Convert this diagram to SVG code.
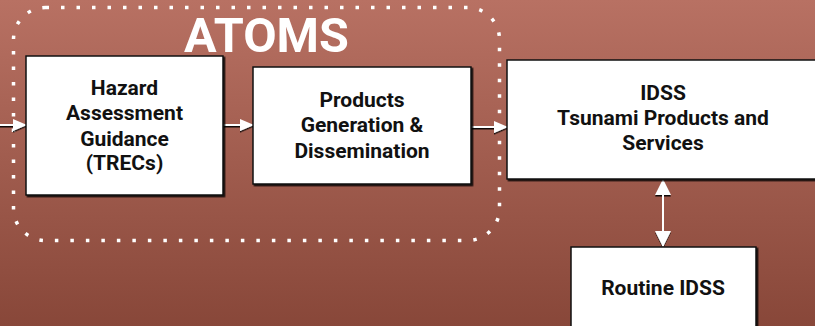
<svg xmlns="http://www.w3.org/2000/svg" width="815" height="326" viewBox="0 0 815 326">
  <defs>
    <linearGradient id="bg" x1="0" y1="0" x2="0" y2="1">
      <stop offset="0" stop-color="#b87163"/>
      <stop offset="1" stop-color="#884739"/>
    </linearGradient>
    <filter id="shadow" x="-5%" y="-5%" width="115%" height="115%">
      <feDropShadow dx="1.5" dy="1.5" stdDeviation="0.6" flood-color="#000" flood-opacity="0.85"/>
    </filter>
    <filter id="ashadow" x="-20%" y="-50%" width="140%" height="200%">
      <feDropShadow dx="0" dy="1.5" stdDeviation="0.4" flood-color="#000" flood-opacity="0.9"/>
    </filter>
    <marker id="head" viewBox="0 0 14 12" refX="13" refY="6" markerWidth="14" markerHeight="12" markerUnits="userSpaceOnUse" orient="auto-start-reverse">
      <path d="M0,0 L14,6 L0,12 Z" fill="#fff"/>
    </marker>
    <marker id="vhead" viewBox="0 0 16 16" refX="15" refY="8" markerWidth="16" markerHeight="16" markerUnits="userSpaceOnUse" orient="auto-start-reverse">
      <path d="M0,0 L16,8 L0,16 Z" fill="#fff"/>
    </marker>
  </defs>
  <style>
    .box { fill: #fff; stroke: #111; stroke-width: 1.5; filter: url(#shadow); }
    .label { font-family: Roboto, "Liberation Sans", sans-serif; font-weight: bold; font-size: 21px; fill: #111; text-anchor: middle; }
    .title { font-family: Roboto, "Liberation Sans", sans-serif; font-weight: bold; font-size: 48.5px; fill: #fff; text-anchor: middle; }
    .link { stroke: #fff; stroke-width: 2; fill: none; }
    .group { fill: none; stroke: #fff; stroke-width: 3.5; stroke-dasharray: 3.5 12; }
  </style>

  <rect x="0" y="0" width="815" height="326" fill="url(#bg)"/>

  <!-- ATOMS grouping outline -->
  <g id="atoms">
    <rect class="group" x="13.5" y="7.5" width="486" height="233" rx="32" ry="32"/>
    <text class="title" x="266.5" y="52">ATOMS</text>
  </g>

  <!-- connectors -->
  <g id="connectors" filter="url(#ashadow)">
    <line class="link" x1="0" y1="125" x2="26" y2="125" marker-end="url(#head)"/>
    <line class="link" x1="223" y1="125" x2="253" y2="125" marker-end="url(#head)"/>
    <line class="link" x1="471" y1="127" x2="507" y2="127" marker-end="url(#head)"/>
    <line class="link" x1="663" y1="180" x2="663" y2="246" marker-start="url(#vhead)" marker-end="url(#vhead)"/>
  </g>

  <g id="hazard">
    <rect class="box" x="26" y="56" width="197" height="139"/>
    <text class="label" x="124.5" y="95">Hazard</text>
    <text class="label" x="124.5" y="120">Assessment</text>
    <text class="label" x="124.5" y="145.5">Guidance</text>
    <text class="label" x="124.5" y="170">(TRECs)</text>
  </g>

  <g id="products">
    <rect class="box" x="253" y="67" width="218" height="117"/>
    <text class="label" x="362" y="107">Products</text>
    <text class="label" x="362" y="132">Generation &amp;</text>
    <text class="label" x="362" y="158">Dissemination</text>
  </g>

  <g id="idss">
    <rect class="box" x="507" y="60" width="320" height="119"/>
    <text class="label" x="663" y="100">IDSS</text>
    <text class="label" x="663" y="124.5">Tsunami Products and</text>
    <text class="label" x="663" y="150">Services</text>
  </g>

  <g id="routine">
    <rect class="box" x="571" y="247" width="185" height="90"/>
    <text class="label" x="663" y="295">Routine IDSS</text>
  </g>
</svg>
